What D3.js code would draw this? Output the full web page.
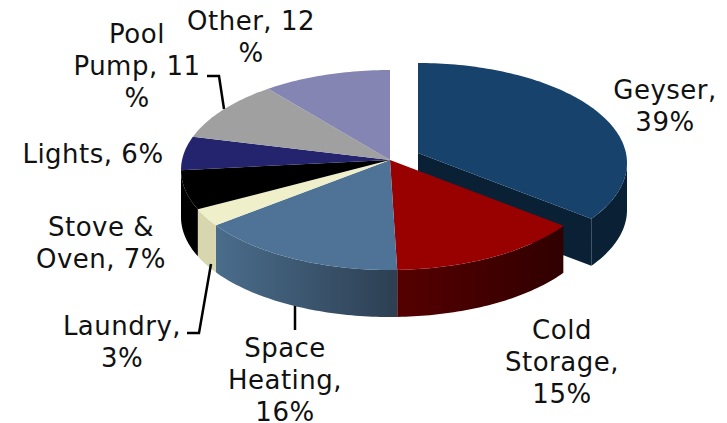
<!DOCTYPE html>
<html>
<head>
<meta charset="utf-8">
<script src="https://cdn.jsdelivr.net/npm/d3@7"></script>
<style>
  html, body { margin: 0; padding: 0; background: #fff; }
  text { font-family: "DejaVu Sans", sans-serif; font-size: 26px; letter-spacing: 0.5px; fill: #111; text-anchor: middle; }
</style>
</head>
<body>
<div id="plot"></div>
<script>
var svgWidth = 727;
var svgHeight = 423;

var categories = ["Geyser", "Cold Storage", "Space Heating", "Laundry", "Stove & Oven", "Lights", "Pool Pump", "Other"];
// what the labels print (adds up to 109)
var percents = [39, 15, 16, 3, 7, 6, 11, 12];
var drawnShares = [34.4, 15.0, 16.2, 2.9, 6.4, 5.4, 9.7, 9.9];
var topColors = ["#17426b", "#990000", "#4f7396", "#efefc9", "#000000", "#24246e", "#a0a0a0", "#8585b3"];
var wallColors = ["#0a2035", "url(#redWall)", "url(#blueWall)", "#d8d6ae", "#000000", "#14143e", "#5a5a5a", "#4a4a66"];

var labelLines = [
  ["Geyser,", "39%"],
  ["Cold", "Storage,", "15%"],
  ["Space", "Heating,", "16%"],
  ["Laundry,", "3%"],
  ["Stove &", "Oven, 7%"],
  ["Lights, 6%"],
  ["Pool", "Pump, 11", "%"],
  ["Other, 12", "%"]
];
var labelAnchors = [[665, 99], [562, 339], [285, 357], [122, 335], [101, 236], [93, 163], [137, 43], [251, 30]];
var leaders = [
  null, null,
  [[295, 306], [295, 330]],
  [[187, 333], [199, 333], [211, 264]],
  null, null,
  [[207, 76], [219, 76], [224, 109]],
  null
];

var depth = 47;
var apex = [390, 160];
var geyserShift = [28, -7];

var svg = d3.select("#plot")
  .append("svg")
  .attr("width", svgWidth)
  .attr("height", svgHeight);

var defs = svg.append("defs");
function wallGradient(id, x1, x2, from, to) {
  var g = defs.append("linearGradient")
    .attr("id", id)
    .attr("gradientUnits", "userSpaceOnUse")
    .attr("x1", x1).attr("x2", x2).attr("y1", 0).attr("y2", 0);
  g.append("stop").attr("offset", "0%").attr("stop-color", from);
  g.append("stop").attr("offset", "100%").attr("stop-color", to);
}
wallGradient("blueWall", 216, 397, "#4a6d8c", "#2d3f52");
wallGradient("redWall", 397, 564, "#560000", "#300000");

// rim ellipse, the apex sits above its centre because of the perspective
var xScale = d3.scaleLinear().domain([-1, 1]).range([181, 599]);
var yScale = d3.scaleLinear().domain([-1, 1]).range([70, 270]);
function rim(angle) {
  return [xScale(Math.sin(angle)), yScale(-Math.cos(angle))];
}
function rimPoints(a, b) {
  var n = Math.max(2, Math.ceil((b - a) / 0.02));
  return d3.range(n + 1).map(function (i) { return rim(a + (b - a) * i / n); });
}

var line = d3.line();
var slices = d3.pie().sort(null).value(function (d) { return d; })(drawnShares);

function wallPath(d) {
  // only the part of the rim facing the viewer
  var a = Math.max(d.startAngle, Math.PI / 2);
  var b = Math.min(d.endAngle, Math.PI * 1.5);
  if (b <= a) return null;
  var pts = rimPoints(a, b);
  var low = pts.slice().reverse().map(function (p) { return [p[0], p[1] + depth]; });
  return line(pts.concat(low)) + "Z";
}
function topPath(d) {
  return line([apex].concat(rimPoints(d.startAngle, d.endAngle))) + "Z";
}

// Geyser is pulled out, so it goes first with its cut face
var geyser = svg.append("g")
  .attr("transform", `translate(${geyserShift[0]}, ${geyserShift[1]})`);
var corner = rim(slices[0].endAngle);
geyser.append("path")
  .attr("d", line([apex, corner, [corner[0], corner[1] + depth], [apex[0], apex[1] + depth]]) + "Z")
  .attr("fill", wallColors[0]);
geyser.append("path").attr("d", wallPath(slices[0])).attr("fill", wallColors[0]);
geyser.append("path").attr("d", topPath(slices[0])).attr("fill", topColors[0]);

// rest of the pie: walls then tops
var body = svg.append("g");
var rest = slices.slice(1);
body.selectAll("path.wall")
  .data(rest.filter(function (d) { return wallPath(d); }))
  .enter()
  .append("path")
  .attr("class", "wall")
  .attr("d", wallPath)
  .attr("fill", function (d) { return wallColors[d.index]; });
body.selectAll("path.top")
  .data(rest)
  .enter()
  .append("path")
  .attr("class", "top")
  .attr("d", topPath)
  .attr("fill", function (d) { return topColors[d.index]; });

// leader lines
svg.selectAll("path.leader")
  .data(leaders.filter(function (d) { return d; }))
  .enter()
  .append("path")
  .attr("class", "leader")
  .attr("d", function (d) { return line(d); })
  .attr("fill", "none")
  .attr("stroke", "#000")
  .attr("stroke-width", 2.5);

// labels
var lineHeight = 32;
categories.forEach(function (c, i) {
  var label = svg.append("text")
    .attr("x", labelAnchors[i][0])
    .attr("y", labelAnchors[i][1]);
  labelLines[i].forEach(function (t, k) {
    label.append("tspan")
      .attr("x", labelAnchors[i][0])
      .attr("dy", k === 0 ? 0 : lineHeight)
      .text(t);
  });
});
</script>
</body>
</html>
